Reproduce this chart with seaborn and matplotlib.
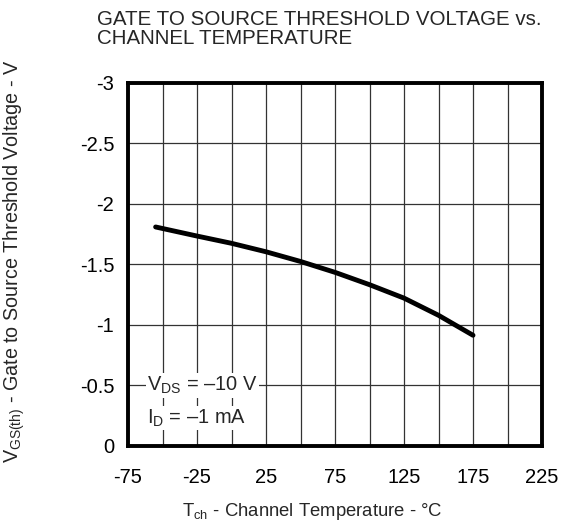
import matplotlib
matplotlib.use("Agg")
import matplotlib.pyplot as plt
import seaborn as sns
import pandas as pd

temperature = [-55, -25, 0, 25, 50, 75, 100, 125, 150, 175]
vgs_th = [-1.81, -1.735, -1.675, -1.605, -1.525, -1.435, -1.333, -1.222, -1.08, -0.915]
x_ticks = [-75, -25, 25, 75, 125, 175, 225]
y_ticks = [-3, -2.5, -2, -1.5, -1, -0.5, 0]
y_tick_labels = ["-3", "-2.5", "-2", "-1.5", "-1", "-0.5", "0"]

sns.set_style("white")
plt.rcParams['font.family'] = ['Liberation Sans', 'DejaVu Sans']
plt.rcParams['mathtext.fontset'] = 'custom'
plt.rcParams['mathtext.rm'] = 'Liberation Sans'
plt.rcParams['axes.unicode_minus'] = False

df = pd.DataFrame({"T": temperature, "V": vgs_th})

fig = plt.figure(figsize=(5.64, 5.32), dpi=100)
ax = fig.add_axes([0.227, 0.1617, 0.734, 0.6823])

sns.lineplot(data=df, x="T", y="V", ax=ax, color="black", linewidth=3.5,
             solid_capstyle="round", solid_joinstyle="round")

ax.set_xlim(-75, 225)
ax.set_ylim(0, -3)
ax.set_xticks(x_ticks)
ax.set_xticklabels([str(v) for v in x_ticks])
ax.set_yticks(y_ticks)
ax.set_yticklabels(y_tick_labels)
ax.set_xticks(range(-75, 226, 25), minor=True)
ax.grid(True, which="both", axis="x", color="#333333", linewidth=0.9)
ax.grid(True, which="major", axis="y", color="#333333", linewidth=0.9)
ax.set_axisbelow(True)
ax.tick_params(axis="both", which="both", length=0, labelsize=14.5, colors="black")
ax.tick_params(axis="y", pad=10)
ax.tick_params(axis="x", pad=16)
for s in ax.spines.values():
    s.set_visible(True)
    s.set_linewidth(2.8)
    s.set_color("black")

ax.set_xlabel(r"T$_{\mathregular{ch}}$ - Channel Temperature - °C", fontsize=13.3)
ax.xaxis.set_label_coords(0.444, -0.152)
ax.set_ylabel(r"V$_{\mathregular{GS(th)}}$ - Gate to Source Threshold Voltage - V", fontsize=14.2)
ax.yaxis.set_label_coords(-0.243, 0.51)

fig.text(0.172, 0.982, "GATE TO SOURCE THRESHOLD VOLTAGE vs.\nCHANNEL TEMPERATURE",
         ha="left", va="top", fontsize=14.8, linespacing=1.05)

ax.text(-61, -0.5, r"V$_{\mathregular{DS}}$ = –10 V", fontsize=14.4, va="center", ha="left",
        bbox=dict(facecolor="white", edgecolor="none", pad=1))
ax.text(-61, -0.23, r"I$_{\mathregular{D}}$ = –1 mA", fontsize=14.4, va="center", ha="left",
        bbox=dict(facecolor="white", edgecolor="none", pad=1))

fig.savefig("out.png", dpi=100)
